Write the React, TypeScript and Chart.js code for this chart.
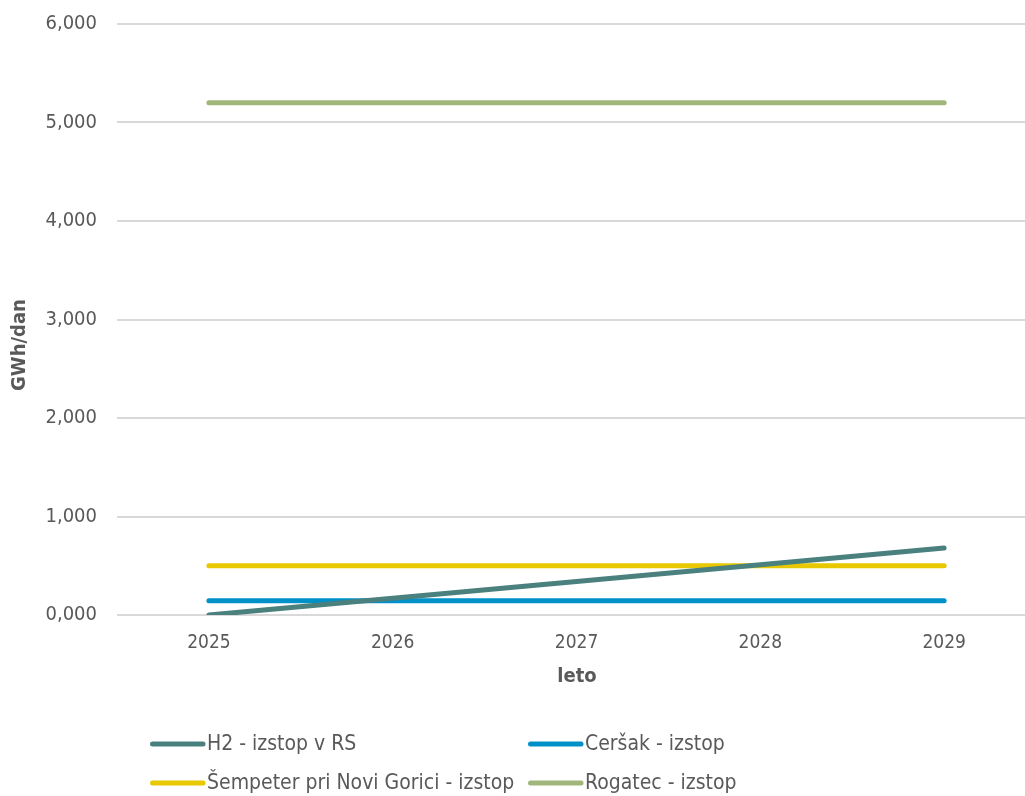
import React, { useEffect, useRef } from "react";
import { Chart, registerables } from "chart.js";

Chart.register(...registerables);

const years = [2025, 2026, 2027, 2028, 2029];
const h2Values = [0, 0.17, 0.34, 0.51, 0.68];
const cersakValues = [0.145, 0.145, 0.145, 0.145, 0.145];
const sempeterValues = [0.5, 0.5, 0.5, 0.5, 0.5];
const rogatecValues = [5.2, 5.2, 5.2, 5.2, 5.2];
const seriesNames = [
  "H2 - izstop v RS",
  "Ceršak - izstop",
  "Šempeter pri Novi Gorici - izstop",
  "Rogatec - izstop",
];
const seriesColors = ["#4a807d", "#0091c9", "#e8c800", "#a1b67b"];
const yTitle = "GWh/dan";
const xTitle = "leto";

const FONT = '"DejaVu Sans Condensed", "DejaVu Sans", sans-serif';
const TEXT = "#595959";

const toPoints = (vals: number[]) => years.map((y, i) => ({ x: y, y: vals[i] }));

const overlayPlugin = {
  id: "overlay",
  afterDraw(chart: any) {
    const ctx = chart.ctx;
    ctx.save();
    ctx.fillStyle = TEXT;
    ctx.font = `bold 20px ${FONT}`;
    ctx.textAlign = "center";
    ctx.textBaseline = "middle";
    ctx.fillText(xTitle, 577, 677);
    ctx.save();
    ctx.translate(20, 345);
    ctx.rotate(-Math.PI / 2);
    ctx.fillText(yTitle, 0, 0);
    ctx.restore();
    const cols = [150, 528];
    const rows = [744, 783];
    ctx.font = `21px ${FONT}`;
    ctx.textAlign = "left";
    chart.data.datasets.forEach((ds: any, i: number) => {
      const x = cols[i % 2];
      const y = rows[Math.floor(i / 2)];
      ctx.strokeStyle = ds.borderColor;
      ctx.lineWidth = 5;
      ctx.lineCap = "round";
      ctx.beginPath();
      ctx.moveTo(x + 2.5, y);
      ctx.lineTo(x + 53, y);
      ctx.stroke();
      ctx.fillStyle = TEXT;
      ctx.fillText(ds.label, x + 57, y + 1);
    });
    ctx.restore();
  },
};

export default function App() {
  const ref = useRef<HTMLCanvasElement | null>(null);
  useEffect(() => {
    if (!ref.current) return;
    const valueSets = [h2Values, cersakValues, sempeterValues, rogatecValues];
    const chart = new Chart(ref.current, {
      type: "line",
      data: {
        datasets: valueSets.map((vals, i) => ({
          label: seriesNames[i],
          data: toPoints(vals),
          borderColor: seriesColors[i],
          backgroundColor: seriesColors[i],
          borderWidth: 5,
          borderCapStyle: "round",
          borderJoinStyle: "round",
          pointRadius: 0,
          tension: 0,
          fill: false,
        })),
      },
      options: {
        responsive: false,
        animation: false,
        devicePixelRatio: 1,
        layout: { padding: { top: 24, right: 0, bottom: 0, left: 0 } },
        plugins: { legend: { display: false }, tooltip: { enabled: false } },
        scales: {
          x: {
            type: "linear",
            min: 2024.5,
            max: 2029.44,
            afterBuildTicks: (s: any) => {
              s.ticks = years.map((v) => ({ value: v }));
            },
            afterFit: (s: any) => {
              s.height = 181;
              s.paddingLeft = 0;
              s.paddingRight = 0;
            },
            grid: { display: false, drawTicks: false },
            border: { display: false },
            ticks: {
              color: TEXT,
              font: { family: FONT, size: 19 },
              padding: 17,
              callback: (v: any) => String(v),
              maxRotation: 0,
              autoSkip: false,
            },
          },
          y: {
            min: 0,
            max: 6,
            afterFit: (s: any) => {
              s.width = 117;
              s.paddingTop = 0;
              s.paddingBottom = 0;
            },
            grid: { color: "#d9d9d9", lineWidth: 2, drawTicks: false },
            border: { display: false },
            ticks: {
              stepSize: 1,
              color: TEXT,
              font: { family: FONT, size: 20 },
              padding: 20,
              callback: (v: any) => Number(v).toFixed(3).replace(".", ","),
            },
          },
        },
      },
      plugins: [overlayPlugin],
    } as any);
    return () => chart.destroy();
  }, []);
  return (
    <div style={{ position: "fixed", left: 0, top: 0, width: 1025, height: 796, background: "#fff" }}>
      <canvas ref={ref} width={1025} height={796} style={{ width: 1025, height: 796, display: "block" }} />
    </div>
  );
}
